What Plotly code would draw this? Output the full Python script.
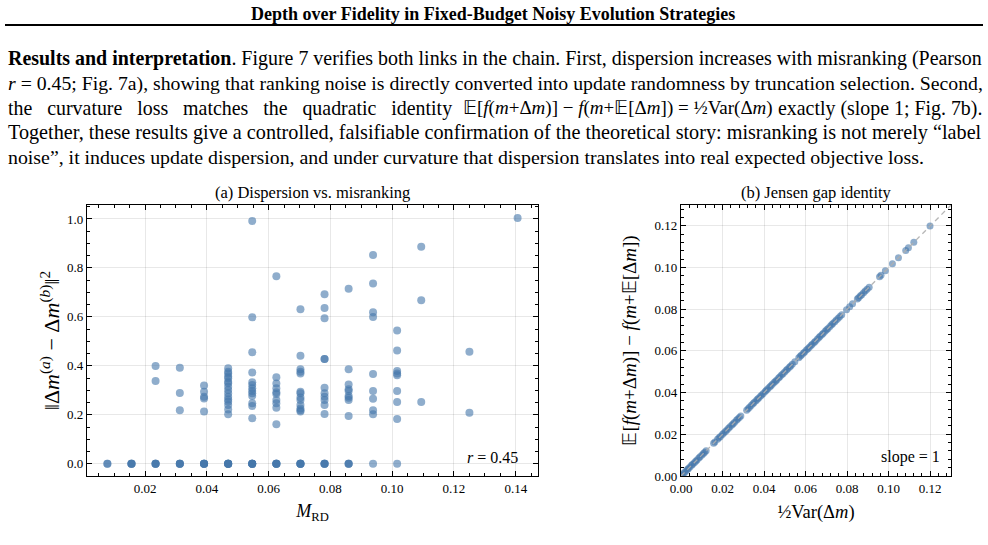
import plotly.graph_objects as go

W, H = 988, 545
SERIF = "Liberation Serif, Times New Roman, Times, serif"

# ---------------- data ----------------
# (a) Dispersion vs. misranking
m_rd = (
    [0.0078] * 2
    + [0.0156] * 4
    + [0.0234] * 6
    + [0.03125] * 7
    + [0.0391] * 10
    + [0.0469] * 22
    + [0.0547] * 19
    + [0.0625] * 15
    + [0.0703] * 18
    + [0.0781] * 15
    + [0.0859] * 12
    + [0.0938] * 10
    + [0.1016] * 9
    + [0.1094] * 3
    + [0.125] * 2
    + [0.1406] * 1
)
dispersion = (
    [0, 0]
    + [0, 0, 0, 0]
    + [0.399, 0.338, 0, 0, 0, 0]
    + [0.392, 0.289, 0.219, 0, 0, 0, 0]
    + [0.320, 0.294, 0.274, 0.267, 0.213, 0, 0, 0, 0, 0]
    + [0.390, 0.376, 0.369, 0.356, 0.349, 0.335, 0.329, 0.315, 0.301, 0.288, 0.274,
       0.263, 0.253, 0.240, 0.222, 0.202, 0, 0, 0, 0, 0, 0]
    + [0.992, 0.598, 0.456, 0.373, 0.333, 0.322, 0.308, 0.297, 0.288, 0.277, 0.247,
       0.236, 0.186, 0, 0, 0, 0, 0, 0]
    + [0.766, 0.353, 0.328, 0.308, 0.292, 0.285, 0.260, 0.247, 0.229, 0.161, 0, 0, 0, 0, 0]
    + [0.631, 0.441, 0.386, 0.376, 0.369, 0.294, 0.288, 0.271, 0.260, 0.240, 0.226,
       0.219, 0.213, 0, 0, 0, 0, 0]
    + [0.692, 0.636, 0.594, 0.428, 0.428, 0.311, 0.288, 0.274, 0.260, 0.240, 0.203, 0, 0, 0, 0]
    + [0.715, 0.386, 0.324, 0.304, 0.297, 0.277, 0.270, 0.260, 0.195, 0, 0, 0]
    + [0.853, 0.736, 0.619, 0.600, 0.367, 0.297, 0.266, 0.219, 0.202, 0]
    + [0.544, 0.463, 0.379, 0.369, 0.362, 0.297, 0.252, 0.183, 0]
    + [0.886, 0.668, 0.252]
    + [0.458, 0.208]
    + [1.004]
)
pearson_r = 0.45

# (b) Jensen gap identity
half_var = [
    0.0004, 0.0011, 0.0017, 0.0024, 0.0031, 0.0036, 0.0043, 0.0051, 0.0056, 0.0064,
    0.0071, 0.0077, 0.0086, 0.0092, 0.0101, 0.0108, 0.0114, 0.0121,
    0.0157, 0.0163, 0.0176, 0.0183, 0.0190, 0.0199, 0.0206, 0.0214, 0.0221, 0.0229,
    0.0236, 0.0245, 0.0251, 0.0258, 0.0267, 0.0273, 0.0281, 0.0288,
    0.0316, 0.0323, 0.0330, 0.0338, 0.0346, 0.0352, 0.0361, 0.0368, 0.0374, 0.0383,
    0.0389, 0.0396, 0.0405, 0.0411, 0.0418, 0.0427, 0.0433, 0.0440, 0.0448, 0.0455,
    0.0461, 0.0470, 0.0476, 0.0484, 0.0491, 0.0499, 0.0507, 0.0513, 0.0522, 0.0528,
    0.0536, 0.0548,
    0.0567, 0.0574, 0.0580, 0.0589, 0.0595, 0.0604, 0.0611, 0.0618, 0.0626, 0.0632,
    0.0641, 0.0647, 0.0656, 0.0664, 0.0670, 0.0679, 0.0685, 0.0694, 0.0701, 0.0708,
    0.0717, 0.0725, 0.0731, 0.0740, 0.0748, 0.0757, 0.0765, 0.0774,
    0.0797, 0.0812, 0.0826,
    0.0849, 0.0855, 0.0863, 0.0870, 0.0879, 0.0887, 0.0896, 0.0906,
    0.0956, 0.0963, 0.0984, 0.1018, 0.1047, 0.1082, 0.1095, 0.1121, 0.1199,
]
jensen_gap = [
    0.0004, 0.0011, 0.0017, 0.0024, 0.0031, 0.0036, 0.0043, 0.0051, 0.0056, 0.0064,
    0.0071, 0.0077, 0.0086, 0.0092, 0.0101, 0.0108, 0.0114, 0.0121,
    0.0157, 0.0163, 0.0176, 0.0183, 0.0190, 0.0199, 0.0206, 0.0214, 0.0221, 0.0229,
    0.0236, 0.0245, 0.0251, 0.0258, 0.0267, 0.0273, 0.0281, 0.0288,
    0.0316, 0.0323, 0.0330, 0.0338, 0.0346, 0.0352, 0.0361, 0.0368, 0.0374, 0.0383,
    0.0389, 0.0396, 0.0405, 0.0411, 0.0418, 0.0427, 0.0433, 0.0440, 0.0448, 0.0455,
    0.0461, 0.0470, 0.0476, 0.0484, 0.0491, 0.0499, 0.0507, 0.0513, 0.0522, 0.0528,
    0.0536, 0.0548,
    0.0567, 0.0574, 0.0580, 0.0589, 0.0595, 0.0604, 0.0611, 0.0618, 0.0626, 0.0632,
    0.0641, 0.0647, 0.0656, 0.0664, 0.0670, 0.0679, 0.0685, 0.0694, 0.0701, 0.0708,
    0.0717, 0.0725, 0.0731, 0.0740, 0.0748, 0.0757, 0.0765, 0.0774,
    0.0797, 0.0812, 0.0826,
    0.0849, 0.0855, 0.0863, 0.0870, 0.0879, 0.0887, 0.0896, 0.0906,
    0.0956, 0.0963, 0.0984, 0.1018, 0.1047, 0.1082, 0.1095, 0.1121, 0.1199,
]
identity_line = [0.0, 0.13]
slope = 1

# ---------------- text ----------------
header = "Depth over Fidelity in Fixed-Budget Noisy Evolution Strategies"
para_line1 = "<b>Results and interpretation</b>. Figure 7 verifies both links in the chain. First, dispersion increases with misranking (Pearson"
para_line2 = "<i>r</i> = 0.45; Fig. 7a), showing that ranking noise is directly converted into update randomness by truncation selection. Second,"
para_line3 = ["the curvature loss matches the quadratic identity",
              "𝔼[<i>f</i>(<i>m</i>+Δ<i>m</i>)] − <i>f</i>(<i>m</i>+𝔼[Δ<i>m</i>]) = ½Var(Δ<i>m</i>)",
              "exactly (slope 1; Fig. 7b)."]
para_line4 = "Together, these results give a controlled, falsifiable confirmation of the theoretical story: misranking is not merely “label"
para_line5 = "noise”, it induces update dispersion, and under curvature that dispersion translates into real expected objective loss."
title_a = "(a) Dispersion vs. misranking"
title_b = "(b) Jensen gap identity"


def px(x):
    return x / W


def py(y):
    return 1 - y / H


MARKER_RGBA = "rgba(68,119,170,0.6)"

fig = go.Figure()
fig.add_trace(go.Scatter(
    x=m_rd, y=dispersion, mode="markers", xaxis="x", yaxis="y",
    marker=dict(size=8, color=MARKER_RGBA, line=dict(width=0)),
    showlegend=False, hoverinfo="skip"))
fig.add_trace(go.Scatter(
    x=half_var, y=jensen_gap, mode="markers", xaxis="x2", yaxis="y2",
    marker=dict(size=7, color=MARKER_RGBA, line=dict(width=0)),
    showlegend=False, hoverinfo="skip"))
fig.add_trace(go.Scatter(
    x=identity_line, y=identity_line, mode="lines", xaxis="x2", yaxis="y2",
    line=dict(color="rgba(175,175,175,0.9)", width=1.3, dash="5px,4px"),
    showlegend=False, hoverinfo="skip"))

axis_common = dict(
    showline=True, linecolor="black", linewidth=1.3, mirror="ticks",
    ticks="inside", ticklen=5, tickwidth=1, tickcolor="black",
    showgrid=True, gridcolor="rgba(0,0,0,0.09)", gridwidth=1,
    zeroline=False, automargin=False,
    tickfont=dict(family=SERIF, size=13, color="black"),
)

fig.update_layout(
    width=W, height=H, margin=dict(l=0, r=0, t=0, b=0, autoexpand=False),
    paper_bgcolor="white", plot_bgcolor="white",
    font=dict(family=SERIF, color="black"),
    xaxis=dict(axis_common, domain=[px(87), px(538)], range=[0.0012, 0.1472],
               dtick=0.02, tick0=0, tickformat=".2f", anchor="y",
               minor=dict(dtick=0.005, tick0=0, ticks="inside", ticklen=3, tickcolor="black", showgrid=False),
               title=dict(text="<i>M</i><sub>RD</sub>", font=dict(family=SERIF, size=18), standoff=9)),
    yaxis=dict(axis_common, domain=[py(476), py(205)], range=[-0.05, 1.057],
               dtick=0.2, tick0=0, tickformat=".1f", anchor="x",
               minor=dict(dtick=0.05, tick0=0, ticks="inside", ticklen=3, tickcolor="black", showgrid=False),
               title=dict(text="‖Δ<i>m</i><sup>(<i>a</i>)</sup> − Δ<i>m</i><sup>(<i>b</i>)</sup>‖<sup>2</sup>",
                          font=dict(family=SERIF, size=22), standoff=1)),
    xaxis2=dict(axis_common, domain=[px(681), px(951)], range=[0, 0.13],
                dtick=0.02, tick0=0, tickformat=".2f", anchor="y2",
                minor=dict(dtick=0.004, tick0=0, ticks="inside", ticklen=3, tickcolor="black", showgrid=False),
                title=dict(text="½Var(Δ<i>m</i>)", font=dict(family=SERIF, size=18.5), standoff=10)),
    yaxis2=dict(axis_common, domain=[py(476), py(205)], range=[0, 0.13],
                dtick=0.02, tick0=0, tickformat=".2f", anchor="x2",
                minor=dict(dtick=0.004, tick0=0, ticks="inside", ticklen=3, tickcolor="black", showgrid=False),
                title=dict(text="𝔼[<i>f</i>(<i>m</i>+Δ<i>m</i>)] − <i>f</i>(<i>m</i>+𝔼[Δ<i>m</i>])",
                           font=dict(family=SERIF, size=19), standoff=12)),
)

ann = []


def add_text(x, y, text, size, xanchor="center", bold=False):
    ann.append(dict(x=px(x), y=py(y), xref="paper", yref="paper",
                    text=("<b>" + text + "</b>") if bold else text,
                    showarrow=False, xanchor=xanchor, yanchor="middle", align=xanchor,
                    borderpad=0, borderwidth=0,
                    font=dict(family=SERIF, size=size, color="black")))


add_text(493, 14, header, 18, "center", bold=True)
add_text(8, 58, para_line1, 19.95, "left")
add_text(8, 83, para_line2, 19.75, "left")
# justified line: widen the inter-word gaps of the first segment (en space + space)
add_text(8, 108, para_line3[0].replace(" ", " \u2002"), 19.9, "left")
add_text(463, 108, para_line3[1], 19.0, "left")
add_text(982, 108, para_line3[2], 19.9, "right")
add_text(8, 133, para_line4, 20.2, "left")
add_text(8, 157, para_line5, 19.85, "left")
add_text(312, 192, title_a, 16.5)
add_text(816, 192, title_b, 16.5)
add_text(518, 457, f"<i>r</i> = {pearson_r:.2f}", 16, "right")
add_text(940, 457, f"slope = {slope}", 16, "right")
fig.update_layout(annotations=ann)

fig.add_shape(type="line", xref="paper", yref="paper",
              x0=px(5), x1=px(983), y0=py(25), y1=py(25),
              line=dict(color="black", width=2))

fig.write_html("out.html")
